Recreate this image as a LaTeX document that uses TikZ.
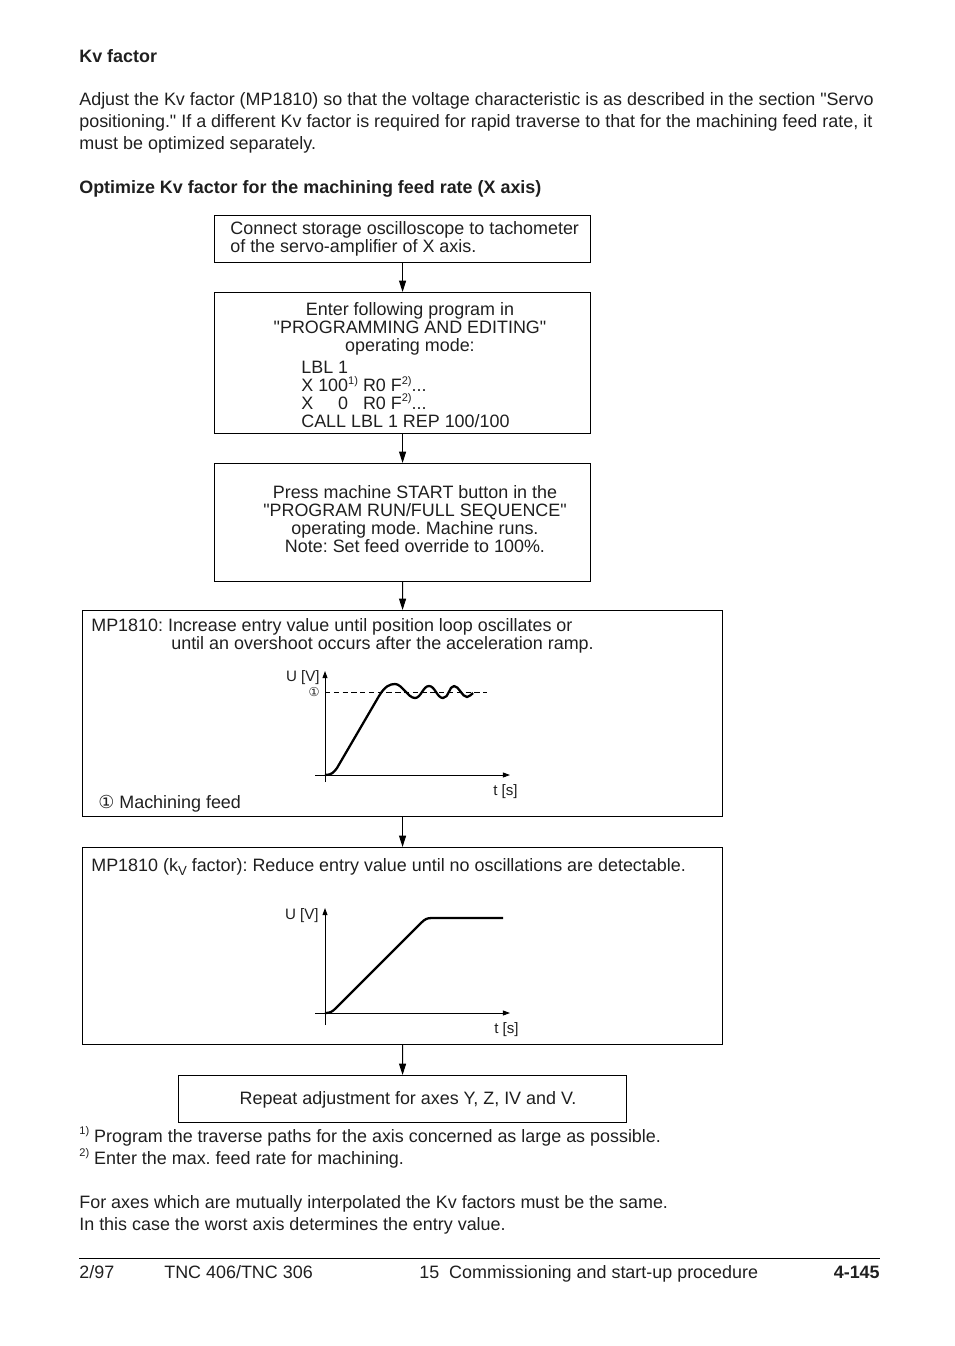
\documentclass[tikz,border=0pt]{standalone}
\usepackage{fontspec}
\setmainfont{Liberation Sans}
\newfontfamily\circfont{DejaVu Sans}
\usetikzlibrary{arrows.meta,positioning}
\newcommand{\qt}{\textquotedbl}
\newcommand{\fnmark}[1]{\raisebox{0.75ex}{\fontsize{6.3}{6.3}\selectfont #1}}

\begin{document}
\frenchspacing
\begin{tikzpicture}[
  x=0.02cm, y=-0.02cm,
  every node/.style={inner sep=0pt, text=black!88, font=\fontsize{10.2}{10.2}\selectfont},
  txt/.style={anchor=base west, align=left},
  mid/.style={anchor=base, align=center},
  para/.style={anchor=base west, align=left, font=\fontsize{10.2}{12.5}\selectfont},
  head/.style={anchor=base west, font=\fontsize{10.2}{12.5}\selectfont\bfseries},
  small/.style={font=\fontsize{8.6}{8.6}\selectfont},
  stepbox/.style={draw, line width=0.7pt, anchor=north west, minimum width=7.52cm},
  panel/.style={draw, line width=0.7pt, anchor=north west, minimum width=12.8cm},
  arr/.style={-{Triangle[length=6.5pt,width=4pt]}, line width=0.6pt},
  axis/.style={-{Triangle[length=4pt,width=2.8pt]}, line width=0.5pt},
  curve/.style={line width=1.3pt, line join=round}
]
  \useasboundingbox (0,0) rectangle (954,1346);

  % Page text above the chart (multi-line nodes sit on their last baseline)
  \node[head] (title) at (79,62) {Kv factor};
  \node[para] (intro) at (79,149) {Adjust the Kv factor (MP1810) so that the voltage characteristic is as described in the section \qt Servo\\
    positioning.\qt{} If a different Kv factor is required for rapid traverse to that for the machining feed rate, it\\
    must be optimized separately.};
  \node[head] (subtitle) at (79,193) {Optimize Kv factor for the machining feed rate (X axis)};

  % Steps
  \node[stepbox, minimum height=0.94cm] (connect) at (214,215) {};
  \node[txt] at (230,252) {Connect storage oscilloscope to tachometer\\of the servo-amplifier of X axis.};

  \node[stepbox, minimum height=2.82cm] (program) at (214,292) {};
  \node[mid] at (410,351) {Enter following program in\\\qt PROGRAMMING AND EDITING\qt\\operating mode:};
  \node[txt] at (301,427) {LBL 1\\
    X 100\fnmark{1)} R0 F\fnmark{2)}...\\
    X \hphantom{10}0\hphantom{\fnmark{1)}} R0 F\fnmark{2)}...\\
    CALL LBL 1 REP 100/100};

  \node[stepbox, minimum height=2.36cm] (start) at (214,463) {};
  \node[mid] at (415,552) {Press machine START button in the\\\qt PROGRAM RUN/FULL SEQUENCE\qt\\operating mode. Machine runs.\\Note: Set feed override to 100\%.};

  \node[panel, minimum height=4.12cm] (increase) at (82,610) {};
  \node[txt] at (91,649) {MP1810: Increase entry value until position loop oscillates or\\
    \hspace*{1.6cm}until an overshoot occurs after the acceleration ramp.};
  \node[txt] at (98,808) {{\circfont ①} Machining feed};

  \node[panel, minimum height=3.94cm] (reduce) at (82,847) {};
  \node[txt] at (91,871) {MP1810 (k\raisebox{-0.45ex}{\fontsize{7.5}{7.5}\selectfont V} factor): Reduce entry value until no oscillations are detectable.};

  \node[draw, line width=0.7pt, anchor=north west, minimum width=8.96cm, minimum height=0.94cm] (repeat) at (178,1075) {};
  \node[mid] at (408,1104) {Repeat adjustment for axes Y, Z, IV and V.};

  % Flow
  \draw[arr] (connect) -- (program);
  \draw[arr] (program) -- (start);
  \draw[arr] (start) -- (increase);
  \draw[arr] (increase) -- (reduce);
  \draw[arr] (reduce) -- (repeat);

  % Oscillating response
  \draw[axis] (325,782) -- (325,671);
  \draw[axis] (315,775) -- (510,775);
  \draw[line width=0.5pt, dash pattern=on 3pt off 2pt] (325,692) -- (487,692);
  \draw[curve] (325,775) .. controls (332,775) and (334,772) .. (337,768)
    -- (379,696)
    .. controls (385,686) and (390,684) .. (395,684)
    .. controls (402,684) and (408,698) .. (415,698)
    .. controls (421,698) and (423,686) .. (429,686)
    .. controls (435,686) and (437,698) .. (443,698)
    .. controls (449,698) and (449,686) .. (454,686)
    .. controls (459,686) and (462,697) .. (467,697)
    .. controls (470,697) and (471,694) .. (473,693);
  \node[small, anchor=base east] at (320,681) {U [V]};
  \node[small, anchor=east] at (320,692) {\circfont\fontsize{7}{7}\selectfont ①};
  \node[small, anchor=base west] at (493,795) {t [s]};

  % Damped response
  \draw[axis] (325,1025) -- (325,908);
  \draw[axis] (315,1013) -- (510,1013);
  \draw[curve] (325,1013) .. controls (330,1013) and (332,1012) .. (336,1008)
    -- (421,923) .. controls (425,919) and (427,918) .. (432,918) -- (503,918);
  \node[small, anchor=base east] at (319,919) {U [V]};
  \node[small, anchor=base west] at (494,1033) {t [s]};

  % Notes and footer
  \node[para] (notes) at (79,1164) {\fnmark{1)} Program the traverse paths for the axis concerned as large as possible.\\
    \fnmark{2)} Enter the max. feed rate for machining.};
  \node[para] (same) at (79,1230) {For axes which are mutually interpolated the Kv factors must be the same.\\
    In this case the worst axis determines the entry value.};
  \draw[line width=0.5pt] (79,1258) -- (880,1258);
  \node[txt] at (79,1278) {2/97};
  \node[txt] at (164,1278) {TNC 406/TNC 306};
  \node[txt] at (419,1278) {15\ \ Commissioning and start-up procedure};
  \node[anchor=base east, font=\fontsize{10.2}{10.2}\selectfont\bfseries] at (880,1278) {4-145};
\end{tikzpicture}
\end{document}
